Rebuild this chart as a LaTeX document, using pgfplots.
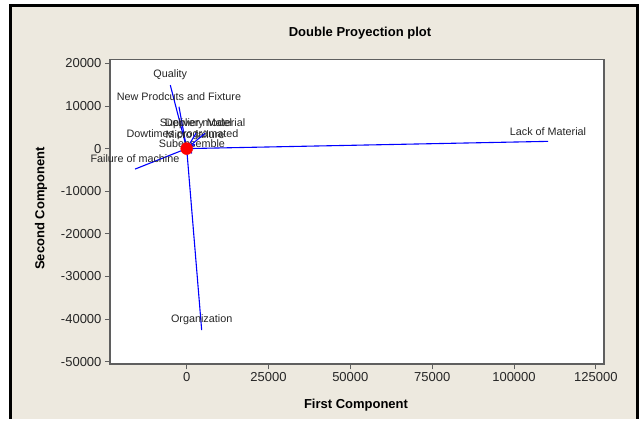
\documentclass[border=0pt]{standalone}
\usepackage{fontspec}
\setmainfont{Liberation Sans}
\usepackage{pgfplots}
\pgfplotsset{compat=1.18}
\definecolor{panel}{RGB}{237,233,223}
\definecolor{boxgray}{RGB}{95,95,95}
\definecolor{vecblue}{RGB}{0,0,255}
\tikzset{
  vec/.style={draw=vecblue, line width=1.1pt},
  lab/.style={pos=1, anchor=center, yshift=10pt, font=\fontsize{10.8}{12}\selectfont, text=black!85},
}

\begin{document}
\begin{tikzpicture}
% page area and the panel behind the plot (its lower edge runs off the page)
\path[fill=white] (-110pt,-54.7pt) rectangle (531pt,364.3pt);
\path[fill=panel] (-99pt,-54.7pt) rectangle (527.5pt,358.3pt);
\draw[black, line width=3pt] (-99pt,-54.7pt) -- (-99pt,358.3pt) -- (527.5pt,358.3pt) -- (527.5pt,-54.7pt);
\begin{axis}[
  at={(0pt,0pt)}, anchor=south west,
  scale only axis, width=494pt, height=305pt,
  xmin=-23430, xmax=127500, ymin=-50600, ymax=20950,
  axis background/.style={fill=white},
  axis line style={draw=boxgray, line width=1.6pt},
  scaled ticks=false,
  xtick={0,25000,50000,75000,100000,125000},
  xticklabels={0,25000,50000,75000,100000,125000},
  ytick={-50000,-40000,-30000,-20000,-10000,0,10000,20000},
  yticklabels={-50000,-40000,-30000,-20000,-10000,0,10000,20000},
  tick pos=left, tick align=outside, major tick length=5pt,
  tick style={draw=boxgray, line width=0.8pt},
  ticklabel style={font=\fontsize{13}{15}\selectfont, text=black!85},
  clip=false,
]
% variable vectors (loadings) drawn from the origin
\addplot[vec, no markers] coordinates {(0,0) (110400,1700)} node[lab] {Lack of Material};
\addplot[vec, no markers] coordinates {(0,0) (4580,-42600)} node[lab] {Organization};
\addplot[vec, no markers] coordinates {(0,0) (-5010,14900)} node[lab] {Quality};
\addplot[vec, no markers] coordinates {(0,0) (-2350,9810)} node[lab] {New Prodcuts and Fixture};
\addplot[vec, no markers] coordinates {(0,0) (-15800,-4810)} node[lab] {Failure of machine};
\addplot[vec, no markers] coordinates {(0,0) (1620,-1100)} node[lab] {Subensemble};
\addplot[vec, no markers] coordinates {(0,0) (-1280,1010)} node[lab] {Dowtimes programated};
\addplot[vec, no markers] coordinates {(0,0) (2540,1010)} node[lab] {Micro failure};
\addplot[vec, no markers] coordinates {(0,0) (2840,3590)} node[lab] {Supplier model};
\addplot[vec, no markers] coordinates {(0,0) (5590,3590)} node[lab] {Delivery Material};
% observation scores, clustered at the origin
\addplot[only marks, mark=*, mark size=6pt, draw=red, fill=red] coordinates {(0,0)};
\end{axis}
\node[font=\bfseries\fontsize{13}{15}\selectfont] at (250pt,331pt) {Double Proyection plot};
\node[font=\bfseries\fontsize{13}{15}\selectfont] at (246pt,-41pt) {First Component};
\node[font=\bfseries\fontsize{13}{15}\selectfont, rotate=90] at (-69pt,156pt) {Second Component};
\end{tikzpicture}
\end{document}
